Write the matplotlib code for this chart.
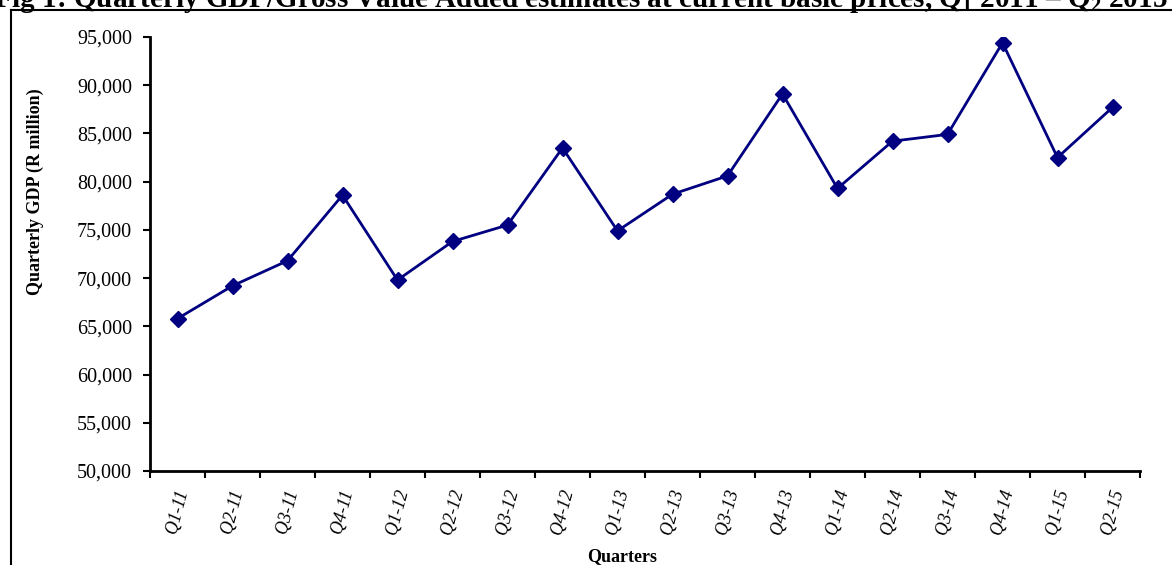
import numpy as np
import matplotlib
matplotlib.use("Agg")
import matplotlib.pyplot as plt
from matplotlib.lines import Line2D
from matplotlib.ticker import FuncFormatter, FixedLocator

plt.rcParams['font.family'] = ['Liberation Serif', 'DejaVu Serif']
plt.rcParams['mathtext.fontset'] = 'custom'
plt.rcParams['mathtext.rm'] = 'Liberation Serif:bold'
plt.rcParams['mathtext.it'] = 'Liberation Serif:bold'
plt.rcParams['mathtext.bf'] = 'Liberation Serif:bold'

# Data
quarters = ['Q1-11', 'Q2-11', 'Q3-11', 'Q4-11',
            'Q1-12', 'Q2-12', 'Q3-12', 'Q4-12',
            'Q1-13', 'Q2-13', 'Q3-13', 'Q4-13',
            'Q1-14', 'Q2-14', 'Q3-14', 'Q4-14',
            'Q1-15', 'Q2-15']
gdp = [65800, 69200, 71800, 78600,
       69800, 73800, 75500, 83500,
       74900, 78700, 80600, 89100,
       79300, 84200, 84900, 94400,
       82500, 87700]
yticks = np.arange(50000, 95001, 5000)

W, H = 1172, 565
fig = plt.figure(figsize=(W/100, H/100), dpi=100)
ax = fig.add_axes([150/W, 1-471/H, (1140-150)/W, (471-37)/H])

x = np.arange(len(quarters))
ax.plot(x, gdp, color='#000080', lw=2, marker='D', ms=8, mfc='#000080', mec='#000080')

ax.set_xlim(-0.5, len(quarters)-0.5)
ax.set_ylim(50000, 95000)
ax.set_yticks(yticks)
ax.yaxis.set_major_formatter(FuncFormatter(lambda v, p: '{:,.0f}'.format(v)))

# ticks between categories, labels at centres
ax.xaxis.set_major_locator(FixedLocator(np.arange(-0.5, len(quarters), 1.0)))
ax.xaxis.set_minor_locator(FixedLocator(x))
ax.set_xticklabels([], minor=False)
ax.set_xticklabels(quarters, minor=True, rotation=75, style='italic', fontsize=13,
                   ha='center', va='top')
ax.tick_params(axis='x', which='major', direction='out', length=5, width=1.5)
ax.tick_params(axis='x', which='minor', length=0, pad=12)
ax.tick_params(axis='y', direction='out', length=5, width=1.5, labelsize=14.5, pad=8)

for s in ['top', 'right']:
    ax.spines[s].set_visible(False)
for s in ['left', 'bottom']:
    ax.spines[s].set_linewidth(2)

fig.text(35/W, 1-192/H, 'Quarterly GDP (R million)', rotation=90, fontsize=13,
         fontweight='bold', ha='center', va='center')
fig.text(622/W, 1-557/H, 'Quarters', fontsize=13, fontweight='bold',
         ha='center', va='center')

# outer frame (partly outside)
fig.add_artist(Line2D([11/W, 11/W], [0, 1-10/H], transform=fig.transFigure,
                      color='black', lw=1.5))
fig.add_artist(Line2D([11/W, 1], [1-10/H, 1-10/H], transform=fig.transFigure,
                      color='black', lw=1.5))

fig.text(-6/W, 1-7/H,
         r'Fig 1: Quarterly GDP/Gross Value Added estimates at current basic prices, Q$_1$ 2011 – Q$_2$ 2015',
         fontsize=21, fontweight='bold', ha='left', va='baseline')

fig.savefig('out.png', dpi=100)
